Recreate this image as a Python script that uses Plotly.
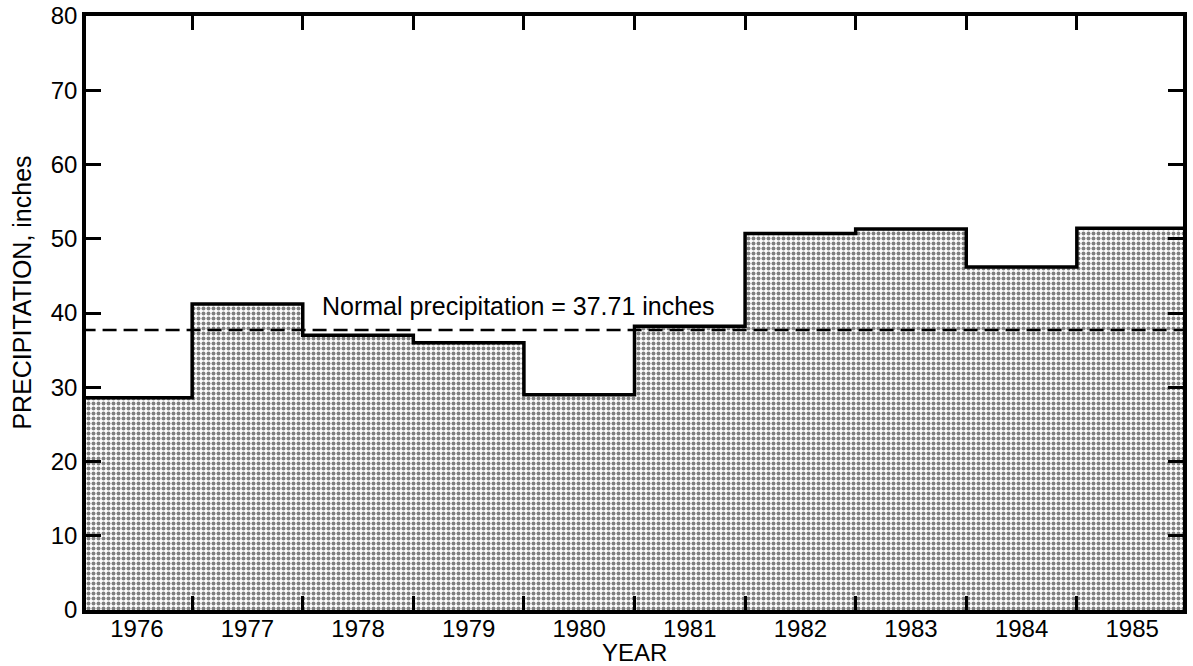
import plotly.graph_objects as go

# Annual precipitation, inches
years = [1976, 1977, 1978, 1979, 1980, 1981, 1982, 1983, 1984, 1985]
precip = [28.6, 41.2, 37.0, 36.0, 29.0, 38.2, 50.7, 51.3, 46.2, 51.4]
normal = 37.71
y_ticks = [0, 10, 20, 30, 40, 50, 60, 70, 80]

# Step edges: each year occupies a full-width bin
edges = [y - 0.5 for y in years] + [years[-1] + 0.5]
step_y = precip + [precip[-1]]

FONT = "Liberation Sans"
x_range = [1975.54, 1985.46]

fig = go.Figure()

fig.add_trace(go.Scatter(
    x=edges, y=step_y, mode="lines",
    line=dict(shape="hv", color="black", width=3.5),
    fill="tozeroy",
    fillpattern=dict(shape=".", fgcolor="black", bgcolor="white",
                     size=5, solidity=0.5),
    hoverinfo="skip", showlegend=False,
))

# Normal precipitation reference line
fig.add_trace(go.Scatter(
    x=[edges[0], edges[-1]], y=[normal, normal], mode="lines",
    line=dict(color="black", width=2.5, dash="14px,7px"),
    xaxis="x2", yaxis="y", hoverinfo="skip", showlegend=False,
))

fig.add_annotation(
    x=1979.45, y=41.0, xref="x", yref="y", showarrow=False,
    text=f"Normal precipitation = {normal} inches",
    font=dict(family=FONT, size=25, color="black"),
)

# Axis titles
fig.add_annotation(
    x=-0.058, y=0.535, xref="paper", yref="paper", showarrow=False,
    xanchor="center", yanchor="middle",
    text="PRECIPITATION, inches", textangle=-90,
    font=dict(family=FONT, size=25, color="black"),
)
fig.add_annotation(
    x=0.5, y=-0.071, xref="paper", yref="paper", showarrow=False,
    xanchor="center", yanchor="middle",
    text="YEAR",
    font=dict(family=FONT, size=24, color="black"),
)

fig.update_layout(
    width=1193, height=666,
    margin=dict(l=86, r=10, t=16, b=56, autoexpand=False),
    paper_bgcolor="white", plot_bgcolor="white",
    xaxis=dict(
        range=x_range, tickvals=years, ticktext=[str(y) for y in years],
        ticks="", showgrid=False, zeroline=False, automargin=False,
        showline=True, linecolor="black", linewidth=3.5, mirror=True,
        tickfont=dict(family=FONT, size=24, color="black"),
        ticklabelstandoff=-6,
    ),
    xaxis2=dict(
        range=x_range, overlaying="x", side="bottom", automargin=False,
        tickvals=edges[1:-1], ticks="inside", ticklen=14, tickwidth=3,
        tickcolor="black", showticklabels=False, mirror="ticks",
        showgrid=False, zeroline=False, showline=False,
    ),
    yaxis=dict(
        range=[0, 80], tickvals=y_ticks, ticks="inside", ticklen=15,
        tickwidth=3, tickcolor="black", mirror="ticks", automargin=False,
        showgrid=False, zeroline=False,
        showline=True, linecolor="black", linewidth=3.5,
        tickfont=dict(family=FONT, size=24, color="black"),
        ticklabelstandoff=0,
    ),
)

fig.write_html("out.html")
